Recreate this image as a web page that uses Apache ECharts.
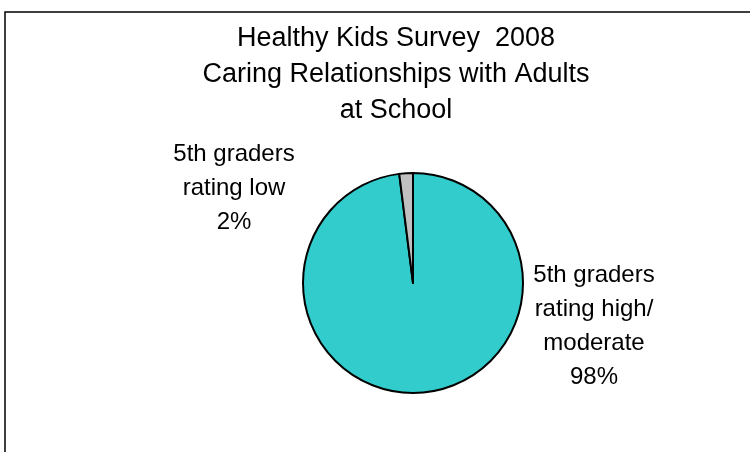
<!DOCTYPE html>
<html>
<head>
<meta charset="utf-8">
<script src="https://cdn.jsdelivr.net/npm/echarts@6/dist/echarts.min.js"></script>
<style>
  html, body { margin: 0; padding: 0; background: #fff; }
  #chart { width: 750px; height: 452px; }
</style>
</head>
<body>
<div id="chart"></div>
<script>
// data
const titleLines = ['Healthy Kids Survey  2008', 'Caring Relationships with Adults', 'at School'];
const sliceNames = ['5th graders\nrating high/\nmoderate', '5th graders\nrating low'];
const sliceValues = [98, 2];
const sliceColors = ['#33CCCC', '#C0C0C0'];
// where each label sits, relative to the pie centre (Excel put them outside)
const labelOffsets = [[181, 43], [-179, -95]];

const pieCenter = [413, 283];
const pieRadius = 110;

const chart = echarts.init(document.getElementById('chart'), null, { renderer: 'canvas' });

const option = {
    backgroundColor: '#ffffff',
    animation: false,
    title: {
        text: titleLines.join('\n'),
        left: 396,
        top: 21,
        textAlign: 'center',
        padding: 0,
        textStyle: {
            fontFamily: 'Liberation Sans, Arial, sans-serif',
            fontWeight: 'normal',
            fontSize: 27,
            lineHeight: 36,
            color: '#000'
        }
    },
    graphic: [{
        type: 'rect',
        silent: true,
        shape: { x: 5, y: 12, width: 800, height: 500 },
        style: { fill: 'none', stroke: '#000', lineWidth: 1.5 }
    }],
    series: [{
        type: 'pie',
        center: pieCenter,
        radius: pieRadius,
        startAngle: 90,
        clockwise: true,
        data: sliceNames.map((n, i) => ({
            name: n,
            value: sliceValues[i],
            itemStyle: { color: sliceColors[i] }
        })),
        itemStyle: { borderColor: '#000', borderWidth: 2 },
        emphasis: { disabled: true },
        label: {
            show: true,
            position: 'outside',
            formatter: '{b}\n{c}%',
            fontFamily: 'Liberation Sans, Arial, sans-serif',
            fontSize: 24,
            lineHeight: 34,
            color: '#000',
            align: 'center'
        },
        labelLine: { show: false },
        labelLayout: function (params) {
            const off = labelOffsets[params.dataIndex];
            return {
                x: pieCenter[0] + off[0],
                y: pieCenter[1] + off[1],
                align: 'center',
                verticalAlign: 'middle'
            };
        }
    }]
};

chart.setOption(option);
</script>
</body>
</html>
